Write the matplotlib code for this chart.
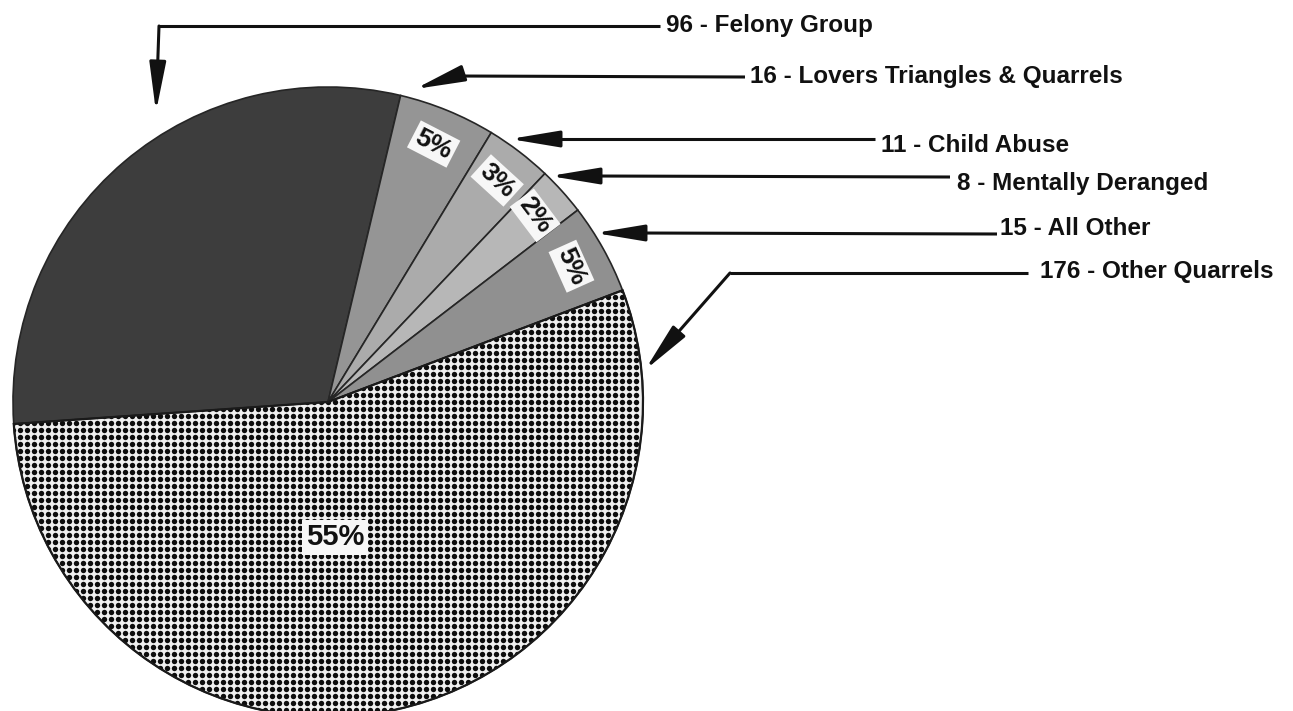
import matplotlib
matplotlib.use('Agg')
import matplotlib.pyplot as plt
import numpy as np
from matplotlib.patches import Wedge

plt.rcParams['font.family'] = ['Liberation Sans', 'DejaVu Sans']

W, H = 1293, 711

# data
categories = ['Felony Group', 'Lovers Triangles & Quarrels', 'Child Abuse',
              'Mentally Deranged', 'All Other', 'Other Quarrels']
counts = [96, 16, 11, 8, 15, 176]
pct_labels = ['', '5%', '3%', '2%', '5%', '55%']
colors = ['#3d3d3d', '#959595', '#ababab', '#b7b7b7', '#909090', '#f0f0f0']


def Y(y):
    # picture row -> data y
    return H - y


fig = plt.figure(figsize=(W / 100, H / 100), dpi=100)
ax = fig.add_axes([0, 0, 1, 1])

cx, cy, r = 328, Y(402), 315
wedges, _ = ax.pie(counts, colors=colors, startangle=184, counterclock=False,
                   center=(cx, cy), radius=r,
                   wedgeprops=dict(edgecolor='#262626', linewidth=1.2))

# dotted screen in the big slice
oq = wedges[-1]
gx, gy = np.meshgrid(np.arange(cx - r, cx + r, 7.0), np.arange(cy - r, cy + r, 7.0))
dots = ax.scatter(gx.ravel(), gy.ravel(), s=15, c='#0d0d0d', linewidths=0, zorder=2)
dots.set_clip_path(oq)
ax.add_patch(Wedge((cx, cy), r, oq.theta1, oq.theta2, fill=False,
                   edgecolor='#1a1a1a', linewidth=1.6, zorder=3))

# percent labels
for w, lab in zip(wedges, pct_labels):
    if not lab:
        continue
    if lab == '55%':
        x, y, rot, fs = cx + 7, cy - 135, 0, 21
    else:
        mid = np.deg2rad((w.theta1 + w.theta2) / 2)
        x = cx + 0.885 * r * np.cos(mid)
        y = cy + 0.885 * r * np.sin(mid)
        rot, fs = np.rad2deg(mid) - 95, 19
    ax.text(x, y, lab, rotation=rot, rotation_mode='anchor', ha='center', va='center',
            fontsize=fs, fontweight='bold', color='#111111', zorder=5,
            bbox=dict(boxstyle='square,pad=0.12', fc='#f7f7f7', ec='none'))

# category labels with leader arrows (picture coords)
text_pos = [(666, 32), (750, 83), (881, 152), (957, 190), (1000, 235), (1040, 278)]
paths = [
    [(660, 26), (159, 26)],
    [(745, 77), (455, 76)],
    [(875, 139), (552, 139)],
    [(950, 177), (590, 176)],
    [(997, 234), (636, 233)],
    [(1028, 273), (730, 273)],
]
tips = [(156, 112), (415, 89), (510, 139), (550, 176), (595, 233), (645, 370)]

for cat, n, (tx, ty), pts, tip in zip(categories, counts, text_pos, paths, tips):
    ax.text(tx, Y(ty), f'{n} - {cat}', ha='left', va='baseline', fontsize=17.5,
            fontweight='bold', color='#111111')
    ax.plot([p[0] for p in pts], [Y(p[1]) for p in pts], color='#111111', lw=2.2,
            solid_capstyle='butt', solid_joinstyle='miter')
    ax.annotate('', xy=(tip[0], Y(tip[1])), xytext=(pts[-1][0], Y(pts[-1][1])),
                arrowprops=dict(arrowstyle='-|>,head_length=1.5,head_width=0.25',
                                color='#111111', lw=2.2, mutation_scale=20,
                                shrinkA=0, shrinkB=0))

ax.set_xlim(0, W)
ax.set_ylim(0, H)
ax.set_aspect('equal')
ax.axis('off')

fig.savefig('out.png', dpi=100)
